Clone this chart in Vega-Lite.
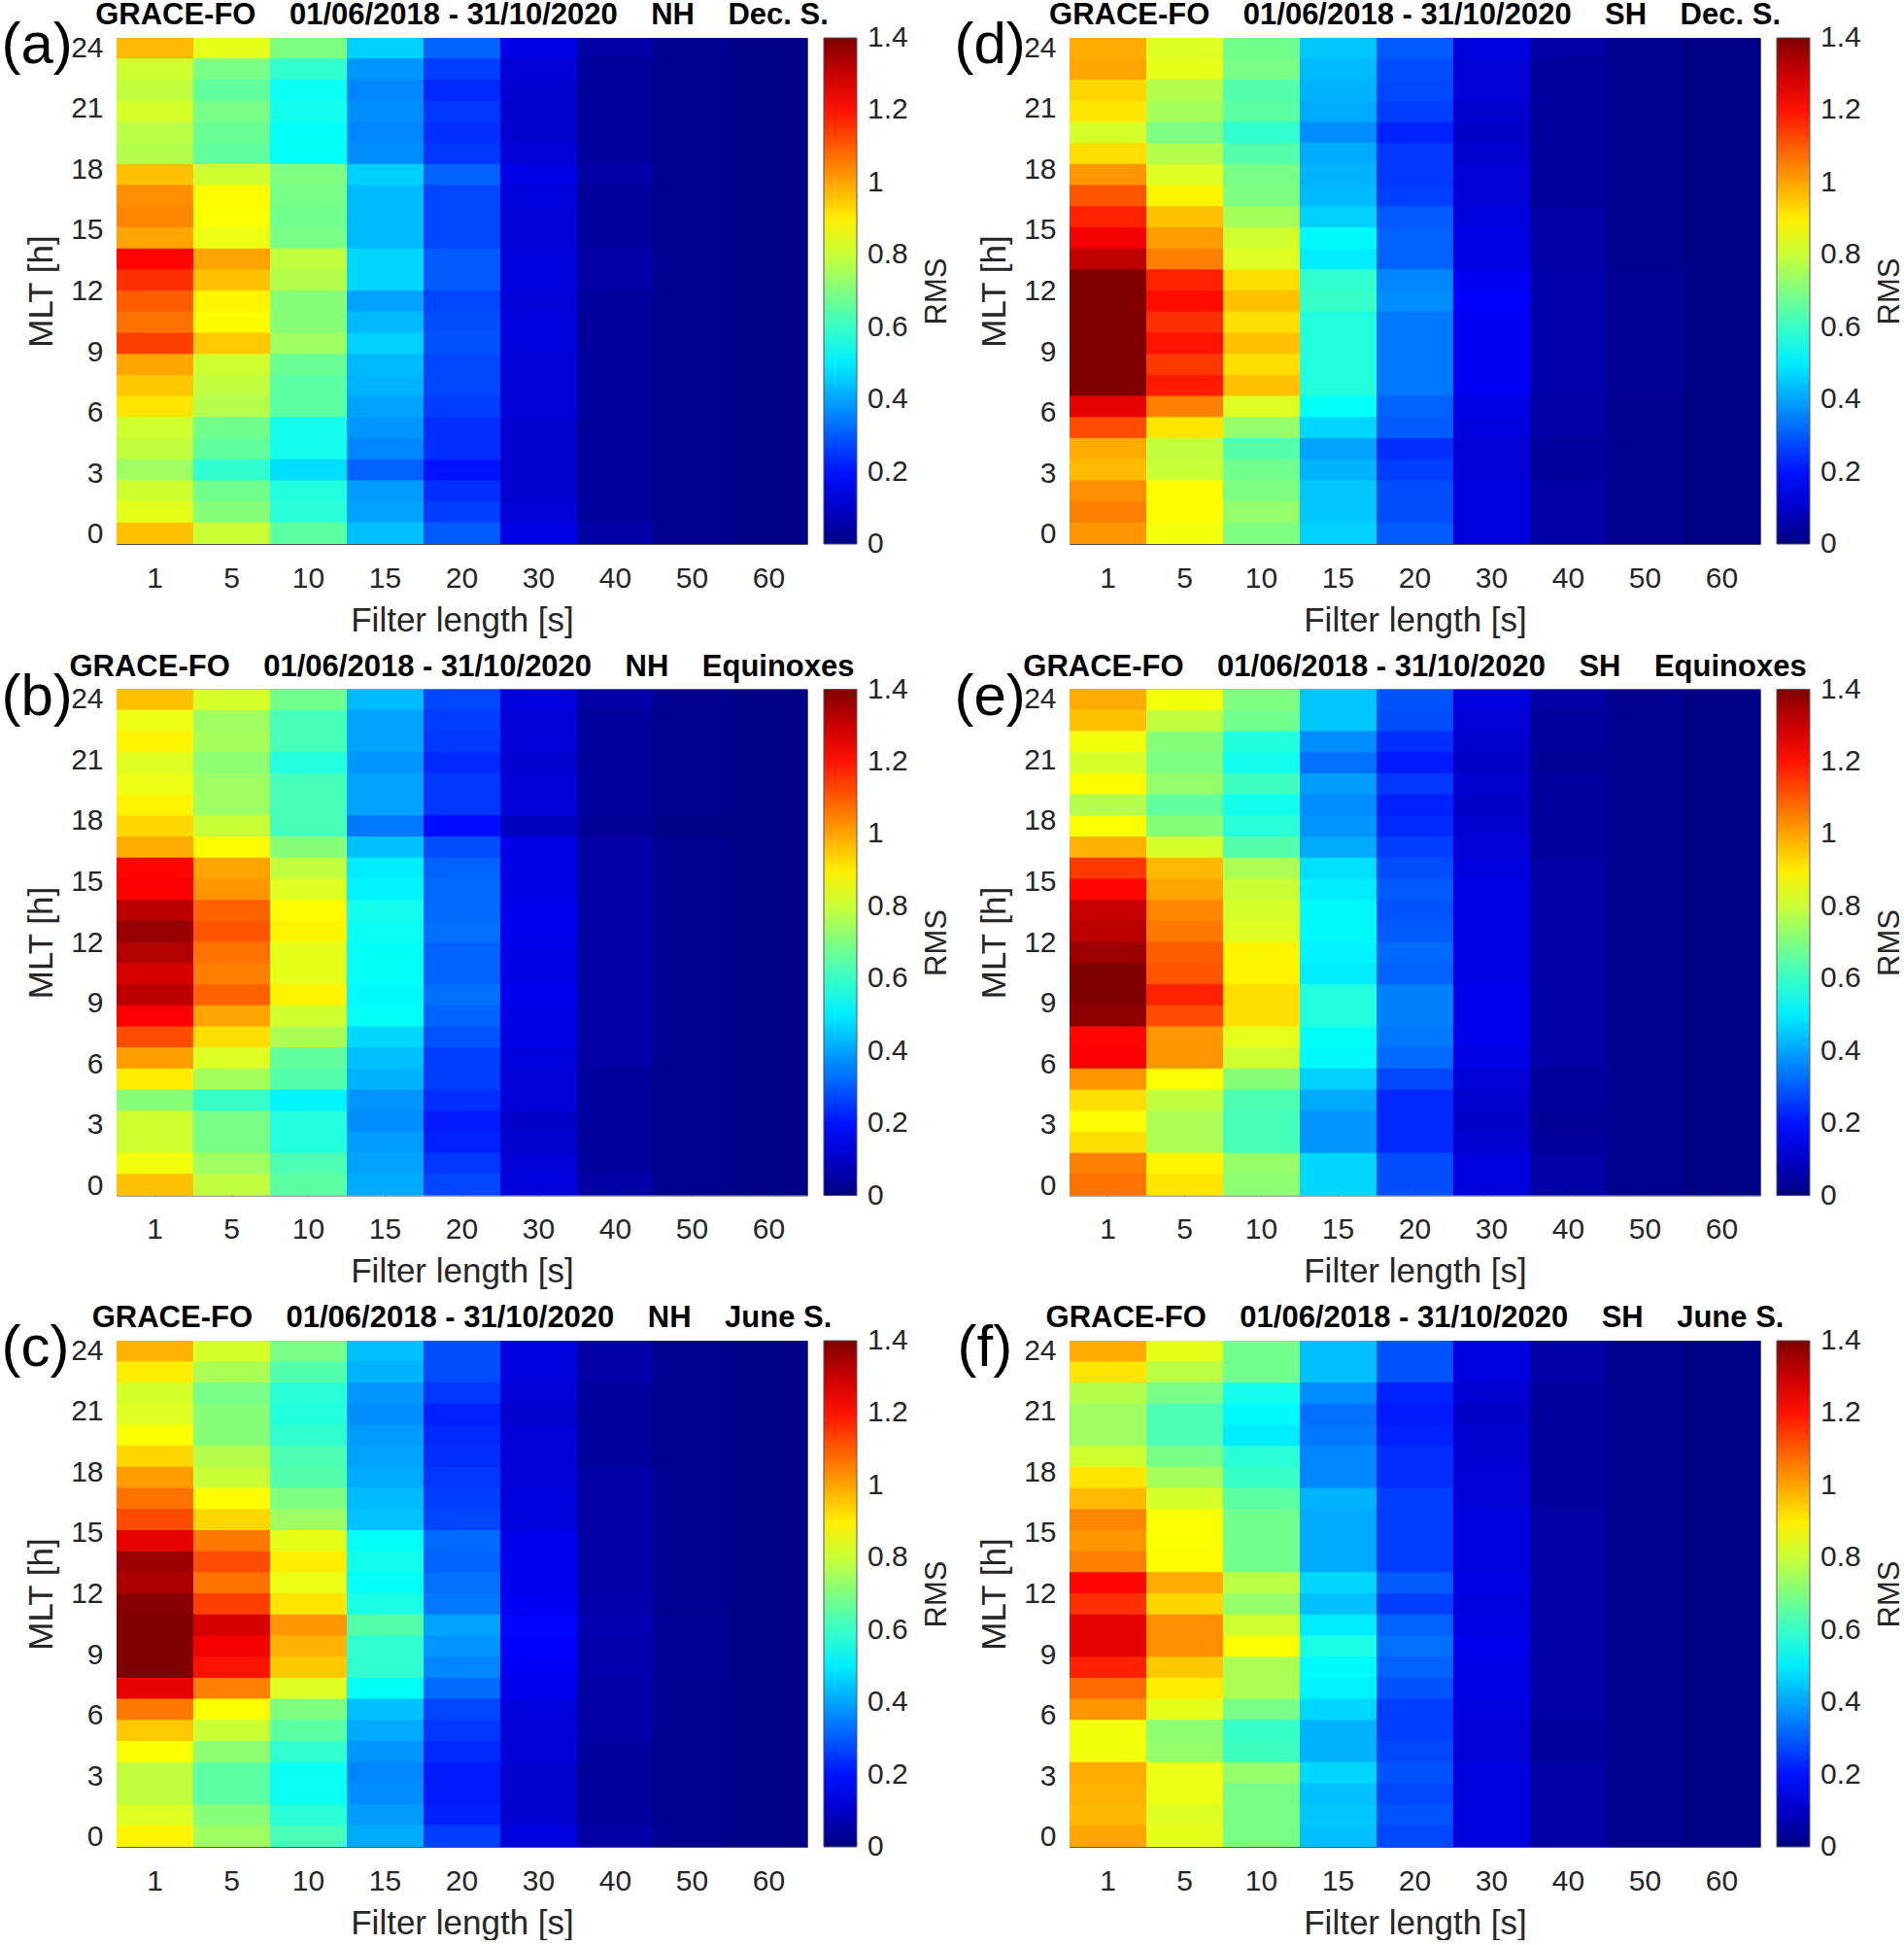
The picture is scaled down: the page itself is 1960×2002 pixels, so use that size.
{"$schema":"https://vega.github.io/schema/vega-lite/v6.json","background":"white","padding":{"left":1,"top":0,"right":0,"bottom":0},"bounds":"flush","columns":2,"spacing":{"row":149.5,"column":270},"resolve":{"scale":{"color":"independent"}},
"config":{"font":"Liberation Sans","view":{"stroke":null},"axis":{"grid":false,"zindex":1,"domainColor":"#555555","tickColor":"#333333","tickSize":-7,"labelColor":"#262626","titleColor":"#262626","labelFontSize":30,"titleFontSize":35,"titleFontWeight":"normal","labelFont":"Liberation Sans","titleFont":"Liberation Sans"},"title":{"fontSize":31,"fontWeight":"bold","color":"#000000","font":"Liberation Sans","offset":-15,"anchor":"middle"}},
"datasets":{
"a":[{"f":1,"m":23.98,"v":0.97},{"f":1,"m":22.94,"v":0.81},{"f":1,"m":21.9,"v":0.79},{"f":1,"m":20.85,"v":0.82},{"f":1,"m":19.81,"v":0.78},{"f":1,"m":18.77,"v":0.77},{"f":1,"m":17.73,"v":0.96},{"f":1,"m":16.69,"v":1.03},{"f":1,"m":15.65,"v":1.04},{"f":1,"m":14.6,"v":1.0},{"f":1,"m":13.56,"v":1.22},{"f":1,"m":12.52,"v":1.16},{"f":1,"m":11.48,"v":1.1},{"f":1,"m":10.44,"v":1.07},{"f":1,"m":9.4,"v":1.14},{"f":1,"m":8.35,"v":1.0},{"f":1,"m":7.31,"v":0.95},{"f":1,"m":6.27,"v":0.91},{"f":1,"m":5.23,"v":0.81},{"f":1,"m":4.19,"v":0.79},{"f":1,"m":3.15,"v":0.74},{"f":1,"m":2.1,"v":0.81},{"f":1,"m":1.06,"v":0.84},{"f":1,"m":0.02,"v":0.96},
{"f":5,"m":23.98,"v":0.84},{"f":5,"m":22.94,"v":0.69},{"f":5,"m":21.9,"v":0.66},{"f":5,"m":20.85,"v":0.69},{"f":5,"m":19.81,"v":0.67},{"f":5,"m":18.77,"v":0.66},{"f":5,"m":17.73,"v":0.81},{"f":5,"m":16.69,"v":0.88},{"f":5,"m":15.65,"v":0.87},{"f":5,"m":14.6,"v":0.85},{"f":5,"m":13.56,"v":1.0},{"f":5,"m":12.52,"v":0.96},{"f":5,"m":11.48,"v":0.89},{"f":5,"m":10.44,"v":0.88},{"f":5,"m":9.4,"v":0.95},{"f":5,"m":8.35,"v":0.81},{"f":5,"m":7.31,"v":0.79},{"f":5,"m":6.27,"v":0.77},{"f":5,"m":5.23,"v":0.68},{"f":5,"m":4.19,"v":0.66},{"f":5,"m":3.15,"v":0.59},{"f":5,"m":2.1,"v":0.68},{"f":5,"m":1.06,"v":0.71},{"f":5,"m":0.02,"v":0.8},
{"f":10,"m":23.98,"v":0.7},{"f":10,"m":22.94,"v":0.59},{"f":10,"m":21.9,"v":0.54},{"f":10,"m":20.85,"v":0.55},{"f":10,"m":19.81,"v":0.53},{"f":10,"m":18.77,"v":0.53},{"f":10,"m":17.73,"v":0.7},{"f":10,"m":16.69,"v":0.69},{"f":10,"m":15.65,"v":0.68},{"f":10,"m":14.6,"v":0.69},{"f":10,"m":13.56,"v":0.79},{"f":10,"m":12.52,"v":0.77},{"f":10,"m":11.48,"v":0.71},{"f":10,"m":10.44,"v":0.71},{"f":10,"m":9.4,"v":0.74},{"f":10,"m":8.35,"v":0.67},{"f":10,"m":7.31,"v":0.65},{"f":10,"m":6.27,"v":0.65},{"f":10,"m":5.23,"v":0.55},{"f":10,"m":4.19,"v":0.55},{"f":10,"m":3.15,"v":0.48},{"f":10,"m":2.1,"v":0.57},{"f":10,"m":1.06,"v":0.58},{"f":10,"m":0.02,"v":0.65},
{"f":15,"m":23.98,"v":0.46},{"f":15,"m":22.94,"v":0.38},{"f":15,"m":21.9,"v":0.36},{"f":15,"m":20.85,"v":0.37},{"f":15,"m":19.81,"v":0.36},{"f":15,"m":18.77,"v":0.37},{"f":15,"m":17.73,"v":0.46},{"f":15,"m":16.69,"v":0.43},{"f":15,"m":15.65,"v":0.43},{"f":15,"m":14.6,"v":0.43},{"f":15,"m":13.56,"v":0.47},{"f":15,"m":12.52,"v":0.47},{"f":15,"m":11.48,"v":0.4},{"f":15,"m":10.44,"v":0.43},{"f":15,"m":9.4,"v":0.46},{"f":15,"m":8.35,"v":0.43},{"f":15,"m":7.31,"v":0.42},{"f":15,"m":6.27,"v":0.4},{"f":15,"m":5.23,"v":0.38},{"f":15,"m":4.19,"v":0.36},{"f":15,"m":3.15,"v":0.31},{"f":15,"m":2.1,"v":0.39},{"f":15,"m":1.06,"v":0.4},{"f":15,"m":0.02,"v":0.44},
{"f":20,"m":23.98,"v":0.31},{"f":20,"m":22.94,"v":0.26},{"f":20,"m":21.9,"v":0.23},{"f":20,"m":20.85,"v":0.25},{"f":20,"m":19.81,"v":0.24},{"f":20,"m":18.77,"v":0.25},{"f":20,"m":17.73,"v":0.31},{"f":20,"m":16.69,"v":0.27},{"f":20,"m":15.65,"v":0.27},{"f":20,"m":14.6,"v":0.27},{"f":20,"m":13.56,"v":0.3},{"f":20,"m":12.52,"v":0.3},{"f":20,"m":11.48,"v":0.27},{"f":20,"m":10.44,"v":0.28},{"f":20,"m":9.4,"v":0.29},{"f":20,"m":8.35,"v":0.27},{"f":20,"m":7.31,"v":0.27},{"f":20,"m":6.27,"v":0.26},{"f":20,"m":5.23,"v":0.24},{"f":20,"m":4.19,"v":0.24},{"f":20,"m":3.15,"v":0.2},{"f":20,"m":2.1,"v":0.24},{"f":20,"m":1.06,"v":0.26},{"f":20,"m":0.02,"v":0.3},
{"f":30,"m":23.98,"v":0.14},{"f":30,"m":22.94,"v":0.12},{"f":30,"m":21.9,"v":0.11},{"f":30,"m":20.85,"v":0.11},{"f":30,"m":19.81,"v":0.11},{"f":30,"m":18.77,"v":0.12},{"f":30,"m":17.73,"v":0.14},{"f":30,"m":16.69,"v":0.13},{"f":30,"m":15.65,"v":0.12},{"f":30,"m":14.6,"v":0.12},{"f":30,"m":13.56,"v":0.13},{"f":30,"m":12.52,"v":0.13},{"f":30,"m":11.48,"v":0.12},{"f":30,"m":10.44,"v":0.13},{"f":30,"m":9.4,"v":0.13},{"f":30,"m":8.35,"v":0.12},{"f":30,"m":7.31,"v":0.12},{"f":30,"m":6.27,"v":0.12},{"f":30,"m":5.23,"v":0.11},{"f":30,"m":4.19,"v":0.11},{"f":30,"m":3.15,"v":0.11},{"f":30,"m":2.1,"v":0.11},{"f":30,"m":1.06,"v":0.12},{"f":30,"m":0.02,"v":0.14},
{"f":40,"m":23.98,"v":0.05},{"f":40,"m":22.94,"v":0.04},{"f":40,"m":21.9,"v":0.04},{"f":40,"m":20.85,"v":0.04},{"f":40,"m":19.81,"v":0.04},{"f":40,"m":18.77,"v":0.04},{"f":40,"m":17.73,"v":0.05},{"f":40,"m":16.69,"v":0.04},{"f":40,"m":15.65,"v":0.04},{"f":40,"m":14.6,"v":0.04},{"f":40,"m":13.56,"v":0.05},{"f":40,"m":12.52,"v":0.05},{"f":40,"m":11.48,"v":0.04},{"f":40,"m":10.44,"v":0.04},{"f":40,"m":9.4,"v":0.04},{"f":40,"m":8.35,"v":0.04},{"f":40,"m":7.31,"v":0.04},{"f":40,"m":6.27,"v":0.04},{"f":40,"m":5.23,"v":0.04},{"f":40,"m":4.19,"v":0.04},{"f":40,"m":3.15,"v":0.04},{"f":40,"m":2.1,"v":0.04},{"f":40,"m":1.06,"v":0.04},{"f":40,"m":0.02,"v":0.05},
{"f":50,"m":23.98,"v":0.02},{"f":50,"m":22.94,"v":0.02},{"f":50,"m":21.9,"v":0.02},{"f":50,"m":20.85,"v":0.02},{"f":50,"m":19.81,"v":0.02},{"f":50,"m":18.77,"v":0.02},{"f":50,"m":17.73,"v":0.02},{"f":50,"m":16.69,"v":0.02},{"f":50,"m":15.65,"v":0.02},{"f":50,"m":14.6,"v":0.02},{"f":50,"m":13.56,"v":0.02},{"f":50,"m":12.52,"v":0.02},{"f":50,"m":11.48,"v":0.02},{"f":50,"m":10.44,"v":0.02},{"f":50,"m":9.4,"v":0.02},{"f":50,"m":8.35,"v":0.02},{"f":50,"m":7.31,"v":0.02},{"f":50,"m":6.27,"v":0.02},{"f":50,"m":5.23,"v":0.02},{"f":50,"m":4.19,"v":0.02},{"f":50,"m":3.15,"v":0.02},{"f":50,"m":2.1,"v":0.02},{"f":50,"m":1.06,"v":0.02},{"f":50,"m":0.02,"v":0.02},
{"f":60,"m":23.98,"v":0.01},{"f":60,"m":22.94,"v":0.01},{"f":60,"m":21.9,"v":0.01},{"f":60,"m":20.85,"v":0.01},{"f":60,"m":19.81,"v":0.01},{"f":60,"m":18.77,"v":0.01},{"f":60,"m":17.73,"v":0.01},{"f":60,"m":16.69,"v":0.01},{"f":60,"m":15.65,"v":0.01},{"f":60,"m":14.6,"v":0.01},{"f":60,"m":13.56,"v":0.01},{"f":60,"m":12.52,"v":0.01},{"f":60,"m":11.48,"v":0.01},{"f":60,"m":10.44,"v":0.01},{"f":60,"m":9.4,"v":0.01},{"f":60,"m":8.35,"v":0.01},{"f":60,"m":7.31,"v":0.01},{"f":60,"m":6.27,"v":0.01},{"f":60,"m":5.23,"v":0.01},{"f":60,"m":4.19,"v":0.01},{"f":60,"m":3.15,"v":0.01},{"f":60,"m":2.1,"v":0.01},{"f":60,"m":1.06,"v":0.01},{"f":60,"m":0.02,"v":0.01}],
"b":[{"f":1,"m":23.98,"v":0.96},{"f":1,"m":22.94,"v":0.85},{"f":1,"m":21.9,"v":0.89},{"f":1,"m":20.85,"v":0.83},{"f":1,"m":19.81,"v":0.85},{"f":1,"m":18.77,"v":0.89},{"f":1,"m":17.73,"v":0.93},{"f":1,"m":16.69,"v":0.99},{"f":1,"m":15.65,"v":1.22},{"f":1,"m":14.6,"v":1.23},{"f":1,"m":13.56,"v":1.32},{"f":1,"m":12.52,"v":1.37},{"f":1,"m":11.48,"v":1.33},{"f":1,"m":10.44,"v":1.28},{"f":1,"m":9.4,"v":1.32},{"f":1,"m":8.35,"v":1.23},{"f":1,"m":7.31,"v":1.12},{"f":1,"m":6.27,"v":1.01},{"f":1,"m":5.23,"v":0.9},{"f":1,"m":4.19,"v":0.71},{"f":1,"m":3.15,"v":0.81},{"f":1,"m":2.1,"v":0.81},{"f":1,"m":1.06,"v":0.86},{"f":1,"m":0.02,"v":0.96},
{"f":5,"m":23.98,"v":0.82},{"f":5,"m":22.94,"v":0.74},{"f":5,"m":21.9,"v":0.75},{"f":5,"m":20.85,"v":0.72},{"f":5,"m":19.81,"v":0.74},{"f":5,"m":18.77,"v":0.74},{"f":5,"m":17.73,"v":0.8},{"f":5,"m":16.69,"v":0.88},{"f":5,"m":15.65,"v":1.0},{"f":5,"m":14.6,"v":1.02},{"f":5,"m":13.56,"v":1.09},{"f":5,"m":12.52,"v":1.11},{"f":5,"m":11.48,"v":1.07},{"f":5,"m":10.44,"v":1.05},{"f":5,"m":9.4,"v":1.09},{"f":5,"m":8.35,"v":1.0},{"f":5,"m":7.31,"v":0.92},{"f":5,"m":6.27,"v":0.83},{"f":5,"m":5.23,"v":0.75},{"f":5,"m":4.19,"v":0.6},{"f":5,"m":3.15,"v":0.69},{"f":5,"m":2.1,"v":0.69},{"f":5,"m":1.06,"v":0.74},{"f":5,"m":0.02,"v":0.79},
{"f":10,"m":23.98,"v":0.68},{"f":10,"m":22.94,"v":0.62},{"f":10,"m":21.9,"v":0.62},{"f":10,"m":20.85,"v":0.57},{"f":10,"m":19.81,"v":0.62},{"f":10,"m":18.77,"v":0.62},{"f":10,"m":17.73,"v":0.62},{"f":10,"m":16.69,"v":0.71},{"f":10,"m":15.65,"v":0.79},{"f":10,"m":14.6,"v":0.83},{"f":10,"m":13.56,"v":0.88},{"f":10,"m":12.52,"v":0.89},{"f":10,"m":11.48,"v":0.84},{"f":10,"m":10.44,"v":0.84},{"f":10,"m":9.4,"v":0.89},{"f":10,"m":8.35,"v":0.81},{"f":10,"m":7.31,"v":0.76},{"f":10,"m":6.27,"v":0.66},{"f":10,"m":5.23,"v":0.64},{"f":10,"m":4.19,"v":0.51},{"f":10,"m":3.15,"v":0.57},{"f":10,"m":2.1,"v":0.57},{"f":10,"m":1.06,"v":0.63},{"f":10,"m":0.02,"v":0.65},
{"f":15,"m":23.98,"v":0.43},{"f":15,"m":22.94,"v":0.4},{"f":15,"m":21.9,"v":0.4},{"f":15,"m":20.85,"v":0.38},{"f":15,"m":19.81,"v":0.4},{"f":15,"m":18.77,"v":0.4},{"f":15,"m":17.73,"v":0.34},{"f":15,"m":16.69,"v":0.44},{"f":15,"m":15.65,"v":0.5},{"f":15,"m":14.6,"v":0.51},{"f":15,"m":13.56,"v":0.55},{"f":15,"m":12.52,"v":0.54},{"f":15,"m":11.48,"v":0.53},{"f":15,"m":10.44,"v":0.53},{"f":15,"m":9.4,"v":0.52},{"f":15,"m":8.35,"v":0.53},{"f":15,"m":7.31,"v":0.47},{"f":15,"m":6.27,"v":0.44},{"f":15,"m":5.23,"v":0.42},{"f":15,"m":4.19,"v":0.38},{"f":15,"m":3.15,"v":0.37},{"f":15,"m":2.1,"v":0.39},{"f":15,"m":1.06,"v":0.4},{"f":15,"m":0.02,"v":0.41},
{"f":20,"m":23.98,"v":0.27},{"f":20,"m":22.94,"v":0.26},{"f":20,"m":21.9,"v":0.25},{"f":20,"m":20.85,"v":0.23},{"f":20,"m":19.81,"v":0.25},{"f":20,"m":18.77,"v":0.25},{"f":20,"m":17.73,"v":0.19},{"f":20,"m":16.69,"v":0.28},{"f":20,"m":15.65,"v":0.31},{"f":20,"m":14.6,"v":0.32},{"f":20,"m":13.56,"v":0.32},{"f":20,"m":12.52,"v":0.33},{"f":20,"m":11.48,"v":0.31},{"f":20,"m":10.44,"v":0.31},{"f":20,"m":9.4,"v":0.33},{"f":20,"m":8.35,"v":0.31},{"f":20,"m":7.31,"v":0.29},{"f":20,"m":6.27,"v":0.26},{"f":20,"m":5.23,"v":0.26},{"f":20,"m":4.19,"v":0.24},{"f":20,"m":3.15,"v":0.21},{"f":20,"m":2.1,"v":0.22},{"f":20,"m":1.06,"v":0.25},{"f":20,"m":0.02,"v":0.27},
{"f":30,"m":23.98,"v":0.13},{"f":30,"m":22.94,"v":0.12},{"f":30,"m":21.9,"v":0.12},{"f":30,"m":20.85,"v":0.11},{"f":30,"m":19.81,"v":0.12},{"f":30,"m":18.77,"v":0.12},{"f":30,"m":17.73,"v":0.09},{"f":30,"m":16.69,"v":0.14},{"f":30,"m":15.65,"v":0.14},{"f":30,"m":14.6,"v":0.14},{"f":30,"m":13.56,"v":0.15},{"f":30,"m":12.52,"v":0.15},{"f":30,"m":11.48,"v":0.14},{"f":30,"m":10.44,"v":0.14},{"f":30,"m":9.4,"v":0.15},{"f":30,"m":8.35,"v":0.14},{"f":30,"m":7.31,"v":0.14},{"f":30,"m":6.27,"v":0.13},{"f":30,"m":5.23,"v":0.12},{"f":30,"m":4.19,"v":0.12},{"f":30,"m":3.15,"v":0.1},{"f":30,"m":2.1,"v":0.11},{"f":30,"m":1.06,"v":0.12},{"f":30,"m":0.02,"v":0.13},
{"f":40,"m":23.98,"v":0.05},{"f":40,"m":22.94,"v":0.04},{"f":40,"m":21.9,"v":0.04},{"f":40,"m":20.85,"v":0.04},{"f":40,"m":19.81,"v":0.04},{"f":40,"m":18.77,"v":0.04},{"f":40,"m":17.73,"v":0.03},{"f":40,"m":16.69,"v":0.05},{"f":40,"m":15.65,"v":0.05},{"f":40,"m":14.6,"v":0.05},{"f":40,"m":13.56,"v":0.05},{"f":40,"m":12.52,"v":0.05},{"f":40,"m":11.48,"v":0.05},{"f":40,"m":10.44,"v":0.05},{"f":40,"m":9.4,"v":0.05},{"f":40,"m":8.35,"v":0.05},{"f":40,"m":7.31,"v":0.05},{"f":40,"m":6.27,"v":0.05},{"f":40,"m":5.23,"v":0.04},{"f":40,"m":4.19,"v":0.04},{"f":40,"m":3.15,"v":0.04},{"f":40,"m":2.1,"v":0.04},{"f":40,"m":1.06,"v":0.04},{"f":40,"m":0.02,"v":0.05},
{"f":50,"m":23.98,"v":0.02},{"f":50,"m":22.94,"v":0.02},{"f":50,"m":21.9,"v":0.02},{"f":50,"m":20.85,"v":0.02},{"f":50,"m":19.81,"v":0.02},{"f":50,"m":18.77,"v":0.02},{"f":50,"m":17.73,"v":0.01},{"f":50,"m":16.69,"v":0.02},{"f":50,"m":15.65,"v":0.02},{"f":50,"m":14.6,"v":0.02},{"f":50,"m":13.56,"v":0.02},{"f":50,"m":12.52,"v":0.02},{"f":50,"m":11.48,"v":0.02},{"f":50,"m":10.44,"v":0.02},{"f":50,"m":9.4,"v":0.02},{"f":50,"m":8.35,"v":0.02},{"f":50,"m":7.31,"v":0.02},{"f":50,"m":6.27,"v":0.02},{"f":50,"m":5.23,"v":0.02},{"f":50,"m":4.19,"v":0.02},{"f":50,"m":3.15,"v":0.02},{"f":50,"m":2.1,"v":0.02},{"f":50,"m":1.06,"v":0.02},{"f":50,"m":0.02,"v":0.02},
{"f":60,"m":23.98,"v":0.01},{"f":60,"m":22.94,"v":0.01},{"f":60,"m":21.9,"v":0.01},{"f":60,"m":20.85,"v":0.01},{"f":60,"m":19.81,"v":0.01},{"f":60,"m":18.77,"v":0.01},{"f":60,"m":17.73,"v":0.01},{"f":60,"m":16.69,"v":0.01},{"f":60,"m":15.65,"v":0.01},{"f":60,"m":14.6,"v":0.01},{"f":60,"m":13.56,"v":0.01},{"f":60,"m":12.52,"v":0.01},{"f":60,"m":11.48,"v":0.01},{"f":60,"m":10.44,"v":0.01},{"f":60,"m":9.4,"v":0.01},{"f":60,"m":8.35,"v":0.01},{"f":60,"m":7.31,"v":0.01},{"f":60,"m":6.27,"v":0.01},{"f":60,"m":5.23,"v":0.01},{"f":60,"m":4.19,"v":0.01},{"f":60,"m":3.15,"v":0.01},{"f":60,"m":2.1,"v":0.01},{"f":60,"m":1.06,"v":0.01},{"f":60,"m":0.02,"v":0.01}],
"c":[{"f":1,"m":23.98,"v":0.98},{"f":1,"m":22.94,"v":0.9},{"f":1,"m":21.9,"v":0.82},{"f":1,"m":20.85,"v":0.83},{"f":1,"m":19.81,"v":0.87},{"f":1,"m":18.77,"v":0.93},{"f":1,"m":17.73,"v":1.01},{"f":1,"m":16.69,"v":1.07},{"f":1,"m":15.65,"v":1.12},{"f":1,"m":14.6,"v":1.26},{"f":1,"m":13.56,"v":1.36},{"f":1,"m":12.52,"v":1.34},{"f":1,"m":11.48,"v":1.39},{"f":1,"m":10.44,"v":1.4},{"f":1,"m":9.4,"v":1.4},{"f":1,"m":8.35,"v":1.4},{"f":1,"m":7.31,"v":1.26},{"f":1,"m":6.27,"v":1.06},{"f":1,"m":5.23,"v":0.95},{"f":1,"m":4.19,"v":0.87},{"f":1,"m":3.15,"v":0.79},{"f":1,"m":2.1,"v":0.79},{"f":1,"m":1.06,"v":0.83},{"f":1,"m":0.02,"v":0.89},
{"f":5,"m":23.98,"v":0.82},{"f":5,"m":22.94,"v":0.76},{"f":5,"m":21.9,"v":0.69},{"f":5,"m":20.85,"v":0.71},{"f":5,"m":19.81,"v":0.71},{"f":5,"m":18.77,"v":0.77},{"f":5,"m":17.73,"v":0.8},{"f":5,"m":16.69,"v":0.88},{"f":5,"m":15.65,"v":0.93},{"f":5,"m":14.6,"v":1.06},{"f":5,"m":13.56,"v":1.12},{"f":5,"m":12.52,"v":1.07},{"f":5,"m":11.48,"v":1.14},{"f":5,"m":10.44,"v":1.28},{"f":5,"m":9.4,"v":1.24},{"f":5,"m":8.35,"v":1.2},{"f":5,"m":7.31,"v":1.05},{"f":5,"m":6.27,"v":0.87},{"f":5,"m":5.23,"v":0.8},{"f":5,"m":4.19,"v":0.72},{"f":5,"m":3.15,"v":0.65},{"f":5,"m":2.1,"v":0.65},{"f":5,"m":1.06,"v":0.71},{"f":5,"m":0.02,"v":0.74},
{"f":10,"m":23.98,"v":0.69},{"f":10,"m":22.94,"v":0.64},{"f":10,"m":21.9,"v":0.58},{"f":10,"m":20.85,"v":0.57},{"f":10,"m":19.81,"v":0.59},{"f":10,"m":18.77,"v":0.63},{"f":10,"m":17.73,"v":0.64},{"f":10,"m":16.69,"v":0.7},{"f":10,"m":15.65,"v":0.74},{"f":10,"m":14.6,"v":0.84},{"f":10,"m":13.56,"v":0.9},{"f":10,"m":12.52,"v":0.85},{"f":10,"m":11.48,"v":0.91},{"f":10,"m":10.44,"v":1.02},{"f":10,"m":9.4,"v":0.98},{"f":10,"m":8.35,"v":0.95},{"f":10,"m":7.31,"v":0.83},{"f":10,"m":6.27,"v":0.7},{"f":10,"m":5.23,"v":0.65},{"f":10,"m":4.19,"v":0.59},{"f":10,"m":3.15,"v":0.54},{"f":10,"m":2.1,"v":0.54},{"f":10,"m":1.06,"v":0.58},{"f":10,"m":0.02,"v":0.62},
{"f":15,"m":23.98,"v":0.44},{"f":15,"m":22.94,"v":0.42},{"f":15,"m":21.9,"v":0.38},{"f":15,"m":20.85,"v":0.37},{"f":15,"m":19.81,"v":0.39},{"f":15,"m":18.77,"v":0.4},{"f":15,"m":17.73,"v":0.41},{"f":15,"m":16.69,"v":0.43},{"f":15,"m":15.65,"v":0.44},{"f":15,"m":14.6,"v":0.53},{"f":15,"m":13.56,"v":0.55},{"f":15,"m":12.52,"v":0.53},{"f":15,"m":11.48,"v":0.56},{"f":15,"m":10.44,"v":0.64},{"f":15,"m":9.4,"v":0.59},{"f":15,"m":8.35,"v":0.59},{"f":15,"m":7.31,"v":0.53},{"f":15,"m":6.27,"v":0.44},{"f":15,"m":5.23,"v":0.41},{"f":15,"m":4.19,"v":0.38},{"f":15,"m":3.15,"v":0.36},{"f":15,"m":2.1,"v":0.37},{"f":15,"m":1.06,"v":0.39},{"f":15,"m":0.02,"v":0.41},
{"f":20,"m":23.98,"v":0.28},{"f":20,"m":22.94,"v":0.28},{"f":20,"m":21.9,"v":0.25},{"f":20,"m":20.85,"v":0.22},{"f":20,"m":19.81,"v":0.23},{"f":20,"m":18.77,"v":0.24},{"f":20,"m":17.73,"v":0.25},{"f":20,"m":16.69,"v":0.26},{"f":20,"m":15.65,"v":0.27},{"f":20,"m":14.6,"v":0.32},{"f":20,"m":13.56,"v":0.31},{"f":20,"m":12.52,"v":0.33},{"f":20,"m":11.48,"v":0.34},{"f":20,"m":10.44,"v":0.4},{"f":20,"m":9.4,"v":0.38},{"f":20,"m":8.35,"v":0.36},{"f":20,"m":7.31,"v":0.32},{"f":20,"m":6.27,"v":0.27},{"f":20,"m":5.23,"v":0.25},{"f":20,"m":4.19,"v":0.23},{"f":20,"m":3.15,"v":0.21},{"f":20,"m":2.1,"v":0.21},{"f":20,"m":1.06,"v":0.22},{"f":20,"m":0.02,"v":0.26},
{"f":30,"m":23.98,"v":0.13},{"f":30,"m":22.94,"v":0.13},{"f":30,"m":21.9,"v":0.12},{"f":30,"m":20.85,"v":0.11},{"f":30,"m":19.81,"v":0.12},{"f":30,"m":18.77,"v":0.12},{"f":30,"m":17.73,"v":0.12},{"f":30,"m":16.69,"v":0.13},{"f":30,"m":15.65,"v":0.13},{"f":30,"m":14.6,"v":0.15},{"f":30,"m":13.56,"v":0.15},{"f":30,"m":12.52,"v":0.15},{"f":30,"m":11.48,"v":0.16},{"f":30,"m":10.44,"v":0.18},{"f":30,"m":9.4,"v":0.17},{"f":30,"m":8.35,"v":0.16},{"f":30,"m":7.31,"v":0.15},{"f":30,"m":6.27,"v":0.13},{"f":30,"m":5.23,"v":0.12},{"f":30,"m":4.19,"v":0.12},{"f":30,"m":3.15,"v":0.11},{"f":30,"m":2.1,"v":0.11},{"f":30,"m":1.06,"v":0.11},{"f":30,"m":0.02,"v":0.13},
{"f":40,"m":23.98,"v":0.05},{"f":40,"m":22.94,"v":0.05},{"f":40,"m":21.9,"v":0.04},{"f":40,"m":20.85,"v":0.04},{"f":40,"m":19.81,"v":0.04},{"f":40,"m":18.77,"v":0.04},{"f":40,"m":17.73,"v":0.05},{"f":40,"m":16.69,"v":0.05},{"f":40,"m":15.65,"v":0.05},{"f":40,"m":14.6,"v":0.05},{"f":40,"m":13.56,"v":0.05},{"f":40,"m":12.52,"v":0.05},{"f":40,"m":11.48,"v":0.06},{"f":40,"m":10.44,"v":0.07},{"f":40,"m":9.4,"v":0.06},{"f":40,"m":8.35,"v":0.06},{"f":40,"m":7.31,"v":0.05},{"f":40,"m":6.27,"v":0.05},{"f":40,"m":5.23,"v":0.05},{"f":40,"m":4.19,"v":0.04},{"f":40,"m":3.15,"v":0.04},{"f":40,"m":2.1,"v":0.04},{"f":40,"m":1.06,"v":0.04},{"f":40,"m":0.02,"v":0.05},
{"f":50,"m":23.98,"v":0.02},{"f":50,"m":22.94,"v":0.02},{"f":50,"m":21.9,"v":0.02},{"f":50,"m":20.85,"v":0.02},{"f":50,"m":19.81,"v":0.02},{"f":50,"m":18.77,"v":0.02},{"f":50,"m":17.73,"v":0.02},{"f":50,"m":16.69,"v":0.02},{"f":50,"m":15.65,"v":0.02},{"f":50,"m":14.6,"v":0.02},{"f":50,"m":13.56,"v":0.02},{"f":50,"m":12.52,"v":0.02},{"f":50,"m":11.48,"v":0.02},{"f":50,"m":10.44,"v":0.03},{"f":50,"m":9.4,"v":0.03},{"f":50,"m":8.35,"v":0.03},{"f":50,"m":7.31,"v":0.02},{"f":50,"m":6.27,"v":0.02},{"f":50,"m":5.23,"v":0.02},{"f":50,"m":4.19,"v":0.02},{"f":50,"m":3.15,"v":0.02},{"f":50,"m":2.1,"v":0.02},{"f":50,"m":1.06,"v":0.02},{"f":50,"m":0.02,"v":0.02},
{"f":60,"m":23.98,"v":0.01},{"f":60,"m":22.94,"v":0.01},{"f":60,"m":21.9,"v":0.01},{"f":60,"m":20.85,"v":0.01},{"f":60,"m":19.81,"v":0.01},{"f":60,"m":18.77,"v":0.01},{"f":60,"m":17.73,"v":0.01},{"f":60,"m":16.69,"v":0.01},{"f":60,"m":15.65,"v":0.01},{"f":60,"m":14.6,"v":0.01},{"f":60,"m":13.56,"v":0.01},{"f":60,"m":12.52,"v":0.01},{"f":60,"m":11.48,"v":0.01},{"f":60,"m":10.44,"v":0.01},{"f":60,"m":9.4,"v":0.01},{"f":60,"m":8.35,"v":0.01},{"f":60,"m":7.31,"v":0.01},{"f":60,"m":6.27,"v":0.01},{"f":60,"m":5.23,"v":0.01},{"f":60,"m":4.19,"v":0.01},{"f":60,"m":3.15,"v":0.01},{"f":60,"m":2.1,"v":0.01},{"f":60,"m":1.06,"v":0.01},{"f":60,"m":0.02,"v":0.01}],
"d":[{"f":1,"m":23.98,"v":0.99},{"f":1,"m":22.94,"v":1.0},{"f":1,"m":21.9,"v":0.93},{"f":1,"m":20.85,"v":0.91},{"f":1,"m":19.81,"v":0.82},{"f":1,"m":18.77,"v":0.92},{"f":1,"m":17.73,"v":1.02},{"f":1,"m":16.69,"v":1.11},{"f":1,"m":15.65,"v":1.18},{"f":1,"m":14.6,"v":1.24},{"f":1,"m":13.56,"v":1.31},{"f":1,"m":12.52,"v":1.4},{"f":1,"m":11.48,"v":1.4},{"f":1,"m":10.44,"v":1.4},{"f":1,"m":9.4,"v":1.4},{"f":1,"m":8.35,"v":1.4},{"f":1,"m":7.31,"v":1.4},{"f":1,"m":6.27,"v":1.26},{"f":1,"m":5.23,"v":1.12},{"f":1,"m":4.19,"v":0.99},{"f":1,"m":3.15,"v":0.97},{"f":1,"m":2.1,"v":1.03},{"f":1,"m":1.06,"v":1.05},{"f":1,"m":0.02,"v":1.02},
{"f":5,"m":23.98,"v":0.83},{"f":5,"m":22.94,"v":0.84},{"f":5,"m":21.9,"v":0.77},{"f":5,"m":20.85,"v":0.75},{"f":5,"m":19.81,"v":0.7},{"f":5,"m":18.77,"v":0.77},{"f":5,"m":17.73,"v":0.83},{"f":5,"m":16.69,"v":0.89},{"f":5,"m":15.65,"v":0.96},{"f":5,"m":14.6,"v":1.01},{"f":5,"m":13.56,"v":1.05},{"f":5,"m":12.52,"v":1.18},{"f":5,"m":11.48,"v":1.21},{"f":5,"m":10.44,"v":1.16},{"f":5,"m":9.4,"v":1.2},{"f":5,"m":8.35,"v":1.15},{"f":5,"m":7.31,"v":1.19},{"f":5,"m":6.27,"v":1.05},{"f":5,"m":5.23,"v":0.91},{"f":5,"m":4.19,"v":0.79},{"f":5,"m":3.15,"v":0.8},{"f":5,"m":2.1,"v":0.88},{"f":5,"m":1.06,"v":0.88},{"f":5,"m":0.02,"v":0.86},
{"f":10,"m":23.98,"v":0.68},{"f":10,"m":22.94,"v":0.69},{"f":10,"m":21.9,"v":0.64},{"f":10,"m":20.85,"v":0.65},{"f":10,"m":19.81,"v":0.59},{"f":10,"m":18.77,"v":0.64},{"f":10,"m":17.73,"v":0.69},{"f":10,"m":16.69,"v":0.7},{"f":10,"m":15.65,"v":0.75},{"f":10,"m":14.6,"v":0.81},{"f":10,"m":13.56,"v":0.83},{"f":10,"m":12.52,"v":0.92},{"f":10,"m":11.48,"v":0.96},{"f":10,"m":10.44,"v":0.92},{"f":10,"m":9.4,"v":0.96},{"f":10,"m":8.35,"v":0.92},{"f":10,"m":7.31,"v":0.96},{"f":10,"m":6.27,"v":0.83},{"f":10,"m":5.23,"v":0.73},{"f":10,"m":4.19,"v":0.64},{"f":10,"m":3.15,"v":0.68},{"f":10,"m":2.1,"v":0.7},{"f":10,"m":1.06,"v":0.73},{"f":10,"m":0.02,"v":0.7},
{"f":15,"m":23.98,"v":0.45},{"f":15,"m":22.94,"v":0.43},{"f":15,"m":21.9,"v":0.42},{"f":15,"m":20.85,"v":0.41},{"f":15,"m":19.81,"v":0.37},{"f":15,"m":18.77,"v":0.41},{"f":15,"m":17.73,"v":0.42},{"f":15,"m":16.69,"v":0.43},{"f":15,"m":15.65,"v":0.46},{"f":15,"m":14.6,"v":0.52},{"f":15,"m":13.56,"v":0.5},{"f":15,"m":12.52,"v":0.59},{"f":15,"m":11.48,"v":0.6},{"f":15,"m":10.44,"v":0.57},{"f":15,"m":9.4,"v":0.57},{"f":15,"m":8.35,"v":0.57},{"f":15,"m":7.31,"v":0.57},{"f":15,"m":6.27,"v":0.53},{"f":15,"m":5.23,"v":0.47},{"f":15,"m":4.19,"v":0.4},{"f":15,"m":3.15,"v":0.42},{"f":15,"m":2.1,"v":0.45},{"f":15,"m":1.06,"v":0.45},{"f":15,"m":0.02,"v":0.46},
{"f":20,"m":23.98,"v":0.3},{"f":20,"m":22.94,"v":0.28},{"f":20,"m":21.9,"v":0.27},{"f":20,"m":20.85,"v":0.26},{"f":20,"m":19.81,"v":0.22},{"f":20,"m":18.77,"v":0.25},{"f":20,"m":17.73,"v":0.25},{"f":20,"m":16.69,"v":0.26},{"f":20,"m":15.65,"v":0.3},{"f":20,"m":14.6,"v":0.31},{"f":20,"m":13.56,"v":0.31},{"f":20,"m":12.52,"v":0.36},{"f":20,"m":11.48,"v":0.37},{"f":20,"m":10.44,"v":0.34},{"f":20,"m":9.4,"v":0.34},{"f":20,"m":8.35,"v":0.34},{"f":20,"m":7.31,"v":0.34},{"f":20,"m":6.27,"v":0.31},{"f":20,"m":5.23,"v":0.3},{"f":20,"m":4.19,"v":0.24},{"f":20,"m":3.15,"v":0.26},{"f":20,"m":2.1,"v":0.28},{"f":20,"m":1.06,"v":0.28},{"f":20,"m":0.02,"v":0.3},
{"f":30,"m":23.98,"v":0.13},{"f":30,"m":22.94,"v":0.12},{"f":30,"m":21.9,"v":0.12},{"f":30,"m":20.85,"v":0.11},{"f":30,"m":19.81,"v":0.1},{"f":30,"m":18.77,"v":0.11},{"f":30,"m":17.73,"v":0.12},{"f":30,"m":16.69,"v":0.12},{"f":30,"m":15.65,"v":0.13},{"f":30,"m":14.6,"v":0.14},{"f":30,"m":13.56,"v":0.14},{"f":30,"m":12.52,"v":0.16},{"f":30,"m":11.48,"v":0.17},{"f":30,"m":10.44,"v":0.16},{"f":30,"m":9.4,"v":0.16},{"f":30,"m":8.35,"v":0.16},{"f":30,"m":7.31,"v":0.16},{"f":30,"m":6.27,"v":0.14},{"f":30,"m":5.23,"v":0.13},{"f":30,"m":4.19,"v":0.12},{"f":30,"m":3.15,"v":0.12},{"f":30,"m":2.1,"v":0.13},{"f":30,"m":1.06,"v":0.13},{"f":30,"m":0.02,"v":0.13},
{"f":40,"m":23.98,"v":0.05},{"f":40,"m":22.94,"v":0.04},{"f":40,"m":21.9,"v":0.04},{"f":40,"m":20.85,"v":0.04},{"f":40,"m":19.81,"v":0.04},{"f":40,"m":18.77,"v":0.04},{"f":40,"m":17.73,"v":0.04},{"f":40,"m":16.69,"v":0.04},{"f":40,"m":15.65,"v":0.05},{"f":40,"m":14.6,"v":0.05},{"f":40,"m":13.56,"v":0.05},{"f":40,"m":12.52,"v":0.06},{"f":40,"m":11.48,"v":0.06},{"f":40,"m":10.44,"v":0.06},{"f":40,"m":9.4,"v":0.06},{"f":40,"m":8.35,"v":0.06},{"f":40,"m":7.31,"v":0.06},{"f":40,"m":6.27,"v":0.05},{"f":40,"m":5.23,"v":0.05},{"f":40,"m":4.19,"v":0.04},{"f":40,"m":3.15,"v":0.04},{"f":40,"m":2.1,"v":0.05},{"f":40,"m":1.06,"v":0.05},{"f":40,"m":0.02,"v":0.05},
{"f":50,"m":23.98,"v":0.02},{"f":50,"m":22.94,"v":0.02},{"f":50,"m":21.9,"v":0.02},{"f":50,"m":20.85,"v":0.02},{"f":50,"m":19.81,"v":0.02},{"f":50,"m":18.77,"v":0.02},{"f":50,"m":17.73,"v":0.02},{"f":50,"m":16.69,"v":0.02},{"f":50,"m":15.65,"v":0.02},{"f":50,"m":14.6,"v":0.02},{"f":50,"m":13.56,"v":0.02},{"f":50,"m":12.52,"v":0.03},{"f":50,"m":11.48,"v":0.03},{"f":50,"m":10.44,"v":0.03},{"f":50,"m":9.4,"v":0.03},{"f":50,"m":8.35,"v":0.03},{"f":50,"m":7.31,"v":0.03},{"f":50,"m":6.27,"v":0.02},{"f":50,"m":5.23,"v":0.02},{"f":50,"m":4.19,"v":0.02},{"f":50,"m":3.15,"v":0.02},{"f":50,"m":2.1,"v":0.02},{"f":50,"m":1.06,"v":0.02},{"f":50,"m":0.02,"v":0.02},
{"f":60,"m":23.98,"v":0.01},{"f":60,"m":22.94,"v":0.01},{"f":60,"m":21.9,"v":0.01},{"f":60,"m":20.85,"v":0.01},{"f":60,"m":19.81,"v":0.01},{"f":60,"m":18.77,"v":0.01},{"f":60,"m":17.73,"v":0.01},{"f":60,"m":16.69,"v":0.01},{"f":60,"m":15.65,"v":0.01},{"f":60,"m":14.6,"v":0.01},{"f":60,"m":13.56,"v":0.01},{"f":60,"m":12.52,"v":0.01},{"f":60,"m":11.48,"v":0.01},{"f":60,"m":10.44,"v":0.01},{"f":60,"m":9.4,"v":0.01},{"f":60,"m":8.35,"v":0.01},{"f":60,"m":7.31,"v":0.01},{"f":60,"m":6.27,"v":0.01},{"f":60,"m":5.23,"v":0.01},{"f":60,"m":4.19,"v":0.01},{"f":60,"m":3.15,"v":0.01},{"f":60,"m":2.1,"v":0.01},{"f":60,"m":1.06,"v":0.01},{"f":60,"m":0.02,"v":0.01}],
"e":[{"f":1,"m":23.98,"v":0.99},{"f":1,"m":22.94,"v":0.96},{"f":1,"m":21.9,"v":0.86},{"f":1,"m":20.85,"v":0.82},{"f":1,"m":19.81,"v":0.88},{"f":1,"m":18.77,"v":0.77},{"f":1,"m":17.73,"v":0.87},{"f":1,"m":16.69,"v":0.98},{"f":1,"m":15.65,"v":1.15},{"f":1,"m":14.6,"v":1.22},{"f":1,"m":13.56,"v":1.3},{"f":1,"m":12.52,"v":1.32},{"f":1,"m":11.48,"v":1.36},{"f":1,"m":10.44,"v":1.4},{"f":1,"m":9.4,"v":1.4},{"f":1,"m":8.35,"v":1.38},{"f":1,"m":7.31,"v":1.22},{"f":1,"m":6.27,"v":1.23},{"f":1,"m":5.23,"v":1.02},{"f":1,"m":4.19,"v":0.92},{"f":1,"m":3.15,"v":0.88},{"f":1,"m":2.1,"v":0.92},{"f":1,"m":1.06,"v":1.05},{"f":1,"m":0.02,"v":1.07},
{"f":5,"m":23.98,"v":0.86},{"f":5,"m":22.94,"v":0.79},{"f":5,"m":21.9,"v":0.71},{"f":5,"m":20.85,"v":0.7},{"f":5,"m":19.81,"v":0.73},{"f":5,"m":18.77,"v":0.66},{"f":5,"m":17.73,"v":0.71},{"f":5,"m":16.69,"v":0.82},{"f":5,"m":15.65,"v":0.97},{"f":5,"m":14.6,"v":1.0},{"f":5,"m":13.56,"v":1.04},{"f":5,"m":12.52,"v":1.06},{"f":5,"m":11.48,"v":1.1},{"f":5,"m":10.44,"v":1.11},{"f":5,"m":9.4,"v":1.18},{"f":5,"m":8.35,"v":1.12},{"f":5,"m":7.31,"v":1.02},{"f":5,"m":6.27,"v":1.02},{"f":5,"m":5.23,"v":0.87},{"f":5,"m":4.19,"v":0.79},{"f":5,"m":3.15,"v":0.76},{"f":5,"m":2.1,"v":0.76},{"f":5,"m":1.06,"v":0.89},{"f":5,"m":0.02,"v":0.91},
{"f":10,"m":23.98,"v":0.7},{"f":10,"m":22.94,"v":0.68},{"f":10,"m":21.9,"v":0.57},{"f":10,"m":20.85,"v":0.55},{"f":10,"m":19.81,"v":0.61},{"f":10,"m":18.77,"v":0.55},{"f":10,"m":17.73,"v":0.58},{"f":10,"m":16.69,"v":0.64},{"f":10,"m":15.65,"v":0.76},{"f":10,"m":14.6,"v":0.8},{"f":10,"m":13.56,"v":0.82},{"f":10,"m":12.52,"v":0.83},{"f":10,"m":11.48,"v":0.89},{"f":10,"m":10.44,"v":0.89},{"f":10,"m":9.4,"v":0.92},{"f":10,"m":8.35,"v":0.92},{"f":10,"m":7.31,"v":0.84},{"f":10,"m":6.27,"v":0.81},{"f":10,"m":5.23,"v":0.71},{"f":10,"m":4.19,"v":0.63},{"f":10,"m":3.15,"v":0.62},{"f":10,"m":2.1,"v":0.62},{"f":10,"m":1.06,"v":0.73},{"f":10,"m":0.02,"v":0.72},
{"f":15,"m":23.98,"v":0.45},{"f":15,"m":22.94,"v":0.45},{"f":15,"m":21.9,"v":0.37},{"f":15,"m":20.85,"v":0.33},{"f":15,"m":19.81,"v":0.39},{"f":15,"m":18.77,"v":0.37},{"f":15,"m":17.73,"v":0.38},{"f":15,"m":16.69,"v":0.41},{"f":15,"m":15.65,"v":0.48},{"f":15,"m":14.6,"v":0.5},{"f":15,"m":13.56,"v":0.52},{"f":15,"m":12.52,"v":0.52},{"f":15,"m":11.48,"v":0.51},{"f":15,"m":10.44,"v":0.5},{"f":15,"m":9.4,"v":0.57},{"f":15,"m":8.35,"v":0.57},{"f":15,"m":7.31,"v":0.53},{"f":15,"m":6.27,"v":0.52},{"f":15,"m":5.23,"v":0.46},{"f":15,"m":4.19,"v":0.41},{"f":15,"m":3.15,"v":0.38},{"f":15,"m":2.1,"v":0.38},{"f":15,"m":1.06,"v":0.47},{"f":15,"m":0.02,"v":0.47},
{"f":20,"m":23.98,"v":0.29},{"f":20,"m":22.94,"v":0.28},{"f":20,"m":21.9,"v":0.24},{"f":20,"m":20.85,"v":0.21},{"f":20,"m":19.81,"v":0.25},{"f":20,"m":18.77,"v":0.22},{"f":20,"m":17.73,"v":0.23},{"f":20,"m":16.69,"v":0.26},{"f":20,"m":15.65,"v":0.28},{"f":20,"m":14.6,"v":0.3},{"f":20,"m":13.56,"v":0.29},{"f":20,"m":12.52,"v":0.3},{"f":20,"m":11.48,"v":0.32},{"f":20,"m":10.44,"v":0.31},{"f":20,"m":9.4,"v":0.35},{"f":20,"m":8.35,"v":0.35},{"f":20,"m":7.31,"v":0.34},{"f":20,"m":6.27,"v":0.32},{"f":20,"m":5.23,"v":0.27},{"f":20,"m":4.19,"v":0.23},{"f":20,"m":3.15,"v":0.23},{"f":20,"m":2.1,"v":0.23},{"f":20,"m":1.06,"v":0.28},{"f":20,"m":0.02,"v":0.28},
{"f":30,"m":23.98,"v":0.13},{"f":30,"m":22.94,"v":0.12},{"f":30,"m":21.9,"v":0.11},{"f":30,"m":20.85,"v":0.1},{"f":30,"m":19.81,"v":0.11},{"f":30,"m":18.77,"v":0.1},{"f":30,"m":17.73,"v":0.11},{"f":30,"m":16.69,"v":0.12},{"f":30,"m":15.65,"v":0.13},{"f":30,"m":14.6,"v":0.14},{"f":30,"m":13.56,"v":0.14},{"f":30,"m":12.52,"v":0.14},{"f":30,"m":11.48,"v":0.14},{"f":30,"m":10.44,"v":0.14},{"f":30,"m":9.4,"v":0.15},{"f":30,"m":8.35,"v":0.15},{"f":30,"m":7.31,"v":0.15},{"f":30,"m":6.27,"v":0.14},{"f":30,"m":5.23,"v":0.12},{"f":30,"m":4.19,"v":0.11},{"f":30,"m":3.15,"v":0.1},{"f":30,"m":2.1,"v":0.11},{"f":30,"m":1.06,"v":0.13},{"f":30,"m":0.02,"v":0.13},
{"f":40,"m":23.98,"v":0.05},{"f":40,"m":22.94,"v":0.04},{"f":40,"m":21.9,"v":0.04},{"f":40,"m":20.85,"v":0.03},{"f":40,"m":19.81,"v":0.04},{"f":40,"m":18.77,"v":0.04},{"f":40,"m":17.73,"v":0.04},{"f":40,"m":16.69,"v":0.04},{"f":40,"m":15.65,"v":0.05},{"f":40,"m":14.6,"v":0.05},{"f":40,"m":13.56,"v":0.05},{"f":40,"m":12.52,"v":0.05},{"f":40,"m":11.48,"v":0.05},{"f":40,"m":10.44,"v":0.05},{"f":40,"m":9.4,"v":0.05},{"f":40,"m":8.35,"v":0.05},{"f":40,"m":7.31,"v":0.05},{"f":40,"m":6.27,"v":0.05},{"f":40,"m":5.23,"v":0.04},{"f":40,"m":4.19,"v":0.04},{"f":40,"m":3.15,"v":0.03},{"f":40,"m":2.1,"v":0.04},{"f":40,"m":1.06,"v":0.05},{"f":40,"m":0.02,"v":0.05},
{"f":50,"m":23.98,"v":0.02},{"f":50,"m":22.94,"v":0.02},{"f":50,"m":21.9,"v":0.02},{"f":50,"m":20.85,"v":0.02},{"f":50,"m":19.81,"v":0.02},{"f":50,"m":18.77,"v":0.02},{"f":50,"m":17.73,"v":0.02},{"f":50,"m":16.69,"v":0.02},{"f":50,"m":15.65,"v":0.02},{"f":50,"m":14.6,"v":0.02},{"f":50,"m":13.56,"v":0.02},{"f":50,"m":12.52,"v":0.02},{"f":50,"m":11.48,"v":0.02},{"f":50,"m":10.44,"v":0.02},{"f":50,"m":9.4,"v":0.02},{"f":50,"m":8.35,"v":0.02},{"f":50,"m":7.31,"v":0.02},{"f":50,"m":6.27,"v":0.02},{"f":50,"m":5.23,"v":0.02},{"f":50,"m":4.19,"v":0.02},{"f":50,"m":3.15,"v":0.02},{"f":50,"m":2.1,"v":0.02},{"f":50,"m":1.06,"v":0.02},{"f":50,"m":0.02,"v":0.02},
{"f":60,"m":23.98,"v":0.01},{"f":60,"m":22.94,"v":0.01},{"f":60,"m":21.9,"v":0.01},{"f":60,"m":20.85,"v":0.01},{"f":60,"m":19.81,"v":0.01},{"f":60,"m":18.77,"v":0.01},{"f":60,"m":17.73,"v":0.01},{"f":60,"m":16.69,"v":0.01},{"f":60,"m":15.65,"v":0.01},{"f":60,"m":14.6,"v":0.01},{"f":60,"m":13.56,"v":0.01},{"f":60,"m":12.52,"v":0.01},{"f":60,"m":11.48,"v":0.01},{"f":60,"m":10.44,"v":0.01},{"f":60,"m":9.4,"v":0.01},{"f":60,"m":8.35,"v":0.01},{"f":60,"m":7.31,"v":0.01},{"f":60,"m":6.27,"v":0.01},{"f":60,"m":5.23,"v":0.01},{"f":60,"m":4.19,"v":0.01},{"f":60,"m":3.15,"v":0.01},{"f":60,"m":2.1,"v":0.01},{"f":60,"m":1.06,"v":0.01},{"f":60,"m":0.02,"v":0.01}],
"g":[{"f":1,"m":23.98,"v":0.99},{"f":1,"m":22.94,"v":0.91},{"f":1,"m":21.9,"v":0.77},{"f":1,"m":20.85,"v":0.74},{"f":1,"m":19.81,"v":0.74},{"f":1,"m":18.77,"v":0.81},{"f":1,"m":17.73,"v":0.91},{"f":1,"m":16.69,"v":0.97},{"f":1,"m":15.65,"v":1.04},{"f":1,"m":14.6,"v":1.02},{"f":1,"m":13.56,"v":1.05},{"f":1,"m":12.52,"v":1.22},{"f":1,"m":11.48,"v":1.16},{"f":1,"m":10.44,"v":1.26},{"f":1,"m":9.4,"v":1.26},{"f":1,"m":8.35,"v":1.18},{"f":1,"m":7.31,"v":1.08},{"f":1,"m":6.27,"v":1.02},{"f":1,"m":5.23,"v":0.86},{"f":1,"m":4.19,"v":0.86},{"f":1,"m":3.15,"v":0.99},{"f":1,"m":2.1,"v":0.98},{"f":1,"m":1.06,"v":0.97},{"f":1,"m":0.02,"v":1.0},
{"f":5,"m":23.98,"v":0.84},{"f":5,"m":22.94,"v":0.78},{"f":5,"m":21.9,"v":0.69},{"f":5,"m":20.85,"v":0.63},{"f":5,"m":19.81,"v":0.63},{"f":5,"m":18.77,"v":0.69},{"f":5,"m":17.73,"v":0.75},{"f":5,"m":16.69,"v":0.82},{"f":5,"m":15.65,"v":0.87},{"f":5,"m":14.6,"v":0.87},{"f":5,"m":13.56,"v":0.88},{"f":5,"m":12.52,"v":0.99},{"f":5,"m":11.48,"v":0.93},{"f":5,"m":10.44,"v":1.03},{"f":5,"m":9.4,"v":1.03},{"f":5,"m":8.35,"v":0.95},{"f":5,"m":7.31,"v":0.9},{"f":5,"m":6.27,"v":0.84},{"f":5,"m":5.23,"v":0.72},{"f":5,"m":4.19,"v":0.73},{"f":5,"m":3.15,"v":0.85},{"f":5,"m":2.1,"v":0.85},{"f":5,"m":1.06,"v":0.83},{"f":5,"m":0.02,"v":0.84},
{"f":10,"m":23.98,"v":0.68},{"f":10,"m":22.94,"v":0.68},{"f":10,"m":21.9,"v":0.55},{"f":10,"m":20.85,"v":0.52},{"f":10,"m":19.81,"v":0.5},{"f":10,"m":18.77,"v":0.58},{"f":10,"m":17.73,"v":0.6},{"f":10,"m":16.69,"v":0.65},{"f":10,"m":15.65,"v":0.68},{"f":10,"m":14.6,"v":0.68},{"f":10,"m":13.56,"v":0.68},{"f":10,"m":12.52,"v":0.78},{"f":10,"m":11.48,"v":0.73},{"f":10,"m":10.44,"v":0.81},{"f":10,"m":9.4,"v":0.87},{"f":10,"m":8.35,"v":0.76},{"f":10,"m":7.31,"v":0.76},{"f":10,"m":6.27,"v":0.69},{"f":10,"m":5.23,"v":0.6},{"f":10,"m":4.19,"v":0.61},{"f":10,"m":3.15,"v":0.73},{"f":10,"m":2.1,"v":0.69},{"f":10,"m":1.06,"v":0.69},{"f":10,"m":0.02,"v":0.69},
{"f":15,"m":23.98,"v":0.44},{"f":15,"m":22.94,"v":0.44},{"f":15,"m":21.9,"v":0.37},{"f":15,"m":20.85,"v":0.33},{"f":15,"m":19.81,"v":0.34},{"f":15,"m":18.77,"v":0.36},{"f":15,"m":17.73,"v":0.36},{"f":15,"m":16.69,"v":0.42},{"f":15,"m":15.65,"v":0.41},{"f":15,"m":14.6,"v":0.41},{"f":15,"m":13.56,"v":0.41},{"f":15,"m":12.52,"v":0.47},{"f":15,"m":11.48,"v":0.44},{"f":15,"m":10.44,"v":0.5},{"f":15,"m":9.4,"v":0.56},{"f":15,"m":8.35,"v":0.52},{"f":15,"m":7.31,"v":0.51},{"f":15,"m":6.27,"v":0.47},{"f":15,"m":5.23,"v":0.42},{"f":15,"m":4.19,"v":0.42},{"f":15,"m":3.15,"v":0.47},{"f":15,"m":2.1,"v":0.44},{"f":15,"m":1.06,"v":0.45},{"f":15,"m":0.02,"v":0.44},
{"f":20,"m":23.98,"v":0.29},{"f":20,"m":22.94,"v":0.29},{"f":20,"m":21.9,"v":0.22},{"f":20,"m":20.85,"v":0.21},{"f":20,"m":19.81,"v":0.22},{"f":20,"m":18.77,"v":0.24},{"f":20,"m":17.73,"v":0.24},{"f":20,"m":16.69,"v":0.26},{"f":20,"m":15.65,"v":0.26},{"f":20,"m":14.6,"v":0.26},{"f":20,"m":13.56,"v":0.26},{"f":20,"m":12.52,"v":0.3},{"f":20,"m":11.48,"v":0.26},{"f":20,"m":10.44,"v":0.31},{"f":20,"m":9.4,"v":0.33},{"f":20,"m":8.35,"v":0.31},{"f":20,"m":7.31,"v":0.29},{"f":20,"m":6.27,"v":0.26},{"f":20,"m":5.23,"v":0.26},{"f":20,"m":4.19,"v":0.27},{"f":20,"m":3.15,"v":0.29},{"f":20,"m":2.1,"v":0.27},{"f":20,"m":1.06,"v":0.29},{"f":20,"m":0.02,"v":0.27},
{"f":30,"m":23.98,"v":0.13},{"f":30,"m":22.94,"v":0.13},{"f":30,"m":21.9,"v":0.11},{"f":30,"m":20.85,"v":0.1},{"f":30,"m":19.81,"v":0.11},{"f":30,"m":18.77,"v":0.11},{"f":30,"m":17.73,"v":0.12},{"f":30,"m":16.69,"v":0.12},{"f":30,"m":15.65,"v":0.13},{"f":30,"m":14.6,"v":0.13},{"f":30,"m":13.56,"v":0.13},{"f":30,"m":12.52,"v":0.14},{"f":30,"m":11.48,"v":0.13},{"f":30,"m":10.44,"v":0.14},{"f":30,"m":9.4,"v":0.15},{"f":30,"m":8.35,"v":0.14},{"f":30,"m":7.31,"v":0.14},{"f":30,"m":6.27,"v":0.13},{"f":30,"m":5.23,"v":0.12},{"f":30,"m":4.19,"v":0.12},{"f":30,"m":3.15,"v":0.13},{"f":30,"m":2.1,"v":0.13},{"f":30,"m":1.06,"v":0.13},{"f":30,"m":0.02,"v":0.13},
{"f":40,"m":23.98,"v":0.05},{"f":40,"m":22.94,"v":0.05},{"f":40,"m":21.9,"v":0.04},{"f":40,"m":20.85,"v":0.04},{"f":40,"m":19.81,"v":0.04},{"f":40,"m":18.77,"v":0.04},{"f":40,"m":17.73,"v":0.04},{"f":40,"m":16.69,"v":0.04},{"f":40,"m":15.65,"v":0.05},{"f":40,"m":14.6,"v":0.05},{"f":40,"m":13.56,"v":0.05},{"f":40,"m":12.52,"v":0.05},{"f":40,"m":11.48,"v":0.05},{"f":40,"m":10.44,"v":0.05},{"f":40,"m":9.4,"v":0.05},{"f":40,"m":8.35,"v":0.05},{"f":40,"m":7.31,"v":0.05},{"f":40,"m":6.27,"v":0.05},{"f":40,"m":5.23,"v":0.04},{"f":40,"m":4.19,"v":0.04},{"f":40,"m":3.15,"v":0.05},{"f":40,"m":2.1,"v":0.05},{"f":40,"m":1.06,"v":0.05},{"f":40,"m":0.02,"v":0.05},
{"f":50,"m":23.98,"v":0.02},{"f":50,"m":22.94,"v":0.02},{"f":50,"m":21.9,"v":0.02},{"f":50,"m":20.85,"v":0.02},{"f":50,"m":19.81,"v":0.02},{"f":50,"m":18.77,"v":0.02},{"f":50,"m":17.73,"v":0.02},{"f":50,"m":16.69,"v":0.02},{"f":50,"m":15.65,"v":0.02},{"f":50,"m":14.6,"v":0.02},{"f":50,"m":13.56,"v":0.02},{"f":50,"m":12.52,"v":0.02},{"f":50,"m":11.48,"v":0.02},{"f":50,"m":10.44,"v":0.02},{"f":50,"m":9.4,"v":0.02},{"f":50,"m":8.35,"v":0.02},{"f":50,"m":7.31,"v":0.02},{"f":50,"m":6.27,"v":0.02},{"f":50,"m":5.23,"v":0.02},{"f":50,"m":4.19,"v":0.02},{"f":50,"m":3.15,"v":0.02},{"f":50,"m":2.1,"v":0.02},{"f":50,"m":1.06,"v":0.02},{"f":50,"m":0.02,"v":0.02},
{"f":60,"m":23.98,"v":0.01},{"f":60,"m":22.94,"v":0.01},{"f":60,"m":21.9,"v":0.01},{"f":60,"m":20.85,"v":0.01},{"f":60,"m":19.81,"v":0.01},{"f":60,"m":18.77,"v":0.01},{"f":60,"m":17.73,"v":0.01},{"f":60,"m":16.69,"v":0.01},{"f":60,"m":15.65,"v":0.01},{"f":60,"m":14.6,"v":0.01},{"f":60,"m":13.56,"v":0.01},{"f":60,"m":12.52,"v":0.01},{"f":60,"m":11.48,"v":0.01},{"f":60,"m":10.44,"v":0.01},{"f":60,"m":9.4,"v":0.01},{"f":60,"m":8.35,"v":0.01},{"f":60,"m":7.31,"v":0.01},{"f":60,"m":6.27,"v":0.01},{"f":60,"m":5.23,"v":0.01},{"f":60,"m":4.19,"v":0.01},{"f":60,"m":3.15,"v":0.01},{"f":60,"m":2.1,"v":0.01},{"f":60,"m":1.06,"v":0.01},{"f":60,"m":0.02,"v":0.01}]
},
"concat":[
{"width":711,"height":521,"title":"GRACE-FO\u00a0\u00a0\u00a0\u00a001/06/2018 - 31/10/2020\u00a0\u00a0\u00a0\u00a0NH\u00a0\u00a0\u00a0\u00a0Dec. S.","resolve":{"axis":{"x":"independent","y":"independent"}},"layer":[
{"data":{"name":"a"},"mark":{"type":"rect","height":22.6,"clip":true},"encoding":{"x":{"field":"f","type":"ordinal","scale":{"type":"band","domain":[1,5,10,15,20,30,40,50,60],"paddingInner":0,"paddingOuter":0},"axis":{"orient":"bottom","title":"Filter length [s]","labelAngle":0,"labelPadding":27,"titlePadding":11}},"y":{"field":"m","type":"quantitative","scale":{"domain":[-0.5,24.5],"nice":false,"zero":false},"axis":{"orient":"left","title":"MLT [h]","values":[0,3,6,9,12,15,18,21,24],"labelPadding":21,"titlePadding":12}},"color":{"field":"v","type":"quantitative","scale":{"domain":[0,0.175,0.525,0.875,1.225,1.4],"range":["#000080","#0000ff","#00ffff","#ffff00","#ff0000","#800000"],"clamp":true,"interpolate":"rgb"},"legend":{"title":"RMS","orient":"none","legendX":728,"legendY":0,"gradientLength":521,"gradientThickness":34,"gradientStrokeColor":"#555555","gradientStrokeWidth":1,"values":[0,0.2,0.4,0.6,0.8,1,1.2,1.4],"format":"~g","labelFontSize":30,"labelOffset":11,"labelColor":"#262626","labelOverlap":false,"titleFontSize":31,"titleColor":"#262626","titleFontWeight":"normal","titleOrient":"right","titlePadding":30,"encoding":{"title":{"angle":{"value":-90},"align":{"value":"center"},"baseline":{"value":"middle"}},"labels":{"baseline":{"value":"middle"}}}}}}},
{"data":{"values":[{"t":"(a)"}]},"mark":{"type":"text","align":"left","baseline":"alphabetic","fontSize":60,"dx":-158,"dy":16,"color":"#000000"},"encoding":{"text":{"field":"t","type":"nominal"},"x":{"datum":1,"type":"ordinal","scale":{"type":"band"},"axis":{"orient":"top","labels":false,"title":null}},"y":{"datum":24,"type":"quantitative","axis":{"orient":"right","labels":false,"title":null,"values":[0,3,6,9,12,15,18,21,24]}}}}]},
{"width":711,"height":521,"title":"GRACE-FO\u00a0\u00a0\u00a0\u00a001/06/2018 - 31/10/2020\u00a0\u00a0\u00a0\u00a0SH\u00a0\u00a0\u00a0\u00a0Dec. S.","resolve":{"axis":{"x":"independent","y":"independent"}},"layer":[
{"data":{"name":"d"},"mark":{"type":"rect","height":22.6,"clip":true},"encoding":{"x":{"field":"f","type":"ordinal","scale":{"type":"band","domain":[1,5,10,15,20,30,40,50,60],"paddingInner":0,"paddingOuter":0},"axis":{"orient":"bottom","title":"Filter length [s]","labelAngle":0,"labelPadding":27,"titlePadding":11}},"y":{"field":"m","type":"quantitative","scale":{"domain":[-0.5,24.5],"nice":false,"zero":false},"axis":{"orient":"left","title":"MLT [h]","values":[0,3,6,9,12,15,18,21,24],"labelPadding":21,"titlePadding":12}},"color":{"field":"v","type":"quantitative","scale":{"domain":[0,0.175,0.525,0.875,1.225,1.4],"range":["#000080","#0000ff","#00ffff","#ffff00","#ff0000","#800000"],"clamp":true,"interpolate":"rgb"},"legend":{"title":"RMS","orient":"none","legendX":728,"legendY":0,"gradientLength":521,"gradientThickness":34,"gradientStrokeColor":"#555555","gradientStrokeWidth":1,"values":[0,0.2,0.4,0.6,0.8,1,1.2,1.4],"format":"~g","labelFontSize":30,"labelOffset":11,"labelColor":"#262626","labelOverlap":false,"titleFontSize":31,"titleColor":"#262626","titleFontWeight":"normal","titleOrient":"right","titlePadding":30,"encoding":{"title":{"angle":{"value":-90},"align":{"value":"center"},"baseline":{"value":"middle"}},"labels":{"baseline":{"value":"middle"}}}}}}},
{"data":{"values":[{"t":"(d)"}]},"mark":{"type":"text","align":"left","baseline":"alphabetic","fontSize":60,"dx":-158,"dy":16,"color":"#000000"},"encoding":{"text":{"field":"t","type":"nominal"},"x":{"datum":1,"type":"ordinal","scale":{"type":"band"},"axis":{"orient":"top","labels":false,"title":null}},"y":{"datum":24,"type":"quantitative","axis":{"orient":"right","labels":false,"title":null,"values":[0,3,6,9,12,15,18,21,24]}}}}]},
{"width":711,"height":521,"title":"GRACE-FO\u00a0\u00a0\u00a0\u00a001/06/2018 - 31/10/2020\u00a0\u00a0\u00a0\u00a0NH\u00a0\u00a0\u00a0\u00a0Equinoxes","resolve":{"axis":{"x":"independent","y":"independent"}},"layer":[
{"data":{"name":"b"},"mark":{"type":"rect","height":22.6,"clip":true},"encoding":{"x":{"field":"f","type":"ordinal","scale":{"type":"band","domain":[1,5,10,15,20,30,40,50,60],"paddingInner":0,"paddingOuter":0},"axis":{"orient":"bottom","title":"Filter length [s]","labelAngle":0,"labelPadding":27,"titlePadding":11}},"y":{"field":"m","type":"quantitative","scale":{"domain":[-0.5,24.5],"nice":false,"zero":false},"axis":{"orient":"left","title":"MLT [h]","values":[0,3,6,9,12,15,18,21,24],"labelPadding":21,"titlePadding":12}},"color":{"field":"v","type":"quantitative","scale":{"domain":[0,0.175,0.525,0.875,1.225,1.4],"range":["#000080","#0000ff","#00ffff","#ffff00","#ff0000","#800000"],"clamp":true,"interpolate":"rgb"},"legend":{"title":"RMS","orient":"none","legendX":728,"legendY":0,"gradientLength":521,"gradientThickness":34,"gradientStrokeColor":"#555555","gradientStrokeWidth":1,"values":[0,0.2,0.4,0.6,0.8,1,1.2,1.4],"format":"~g","labelFontSize":30,"labelOffset":11,"labelColor":"#262626","labelOverlap":false,"titleFontSize":31,"titleColor":"#262626","titleFontWeight":"normal","titleOrient":"right","titlePadding":30,"encoding":{"title":{"angle":{"value":-90},"align":{"value":"center"},"baseline":{"value":"middle"}},"labels":{"baseline":{"value":"middle"}}}}}}},
{"data":{"values":[{"t":"(b)"}]},"mark":{"type":"text","align":"left","baseline":"alphabetic","fontSize":60,"dx":-158,"dy":16,"color":"#000000"},"encoding":{"text":{"field":"t","type":"nominal"},"x":{"datum":1,"type":"ordinal","scale":{"type":"band"},"axis":{"orient":"top","labels":false,"title":null}},"y":{"datum":24,"type":"quantitative","axis":{"orient":"right","labels":false,"title":null,"values":[0,3,6,9,12,15,18,21,24]}}}}]},
{"width":711,"height":521,"title":"GRACE-FO\u00a0\u00a0\u00a0\u00a001/06/2018 - 31/10/2020\u00a0\u00a0\u00a0\u00a0SH\u00a0\u00a0\u00a0\u00a0Equinoxes","resolve":{"axis":{"x":"independent","y":"independent"}},"layer":[
{"data":{"name":"e"},"mark":{"type":"rect","height":22.6,"clip":true},"encoding":{"x":{"field":"f","type":"ordinal","scale":{"type":"band","domain":[1,5,10,15,20,30,40,50,60],"paddingInner":0,"paddingOuter":0},"axis":{"orient":"bottom","title":"Filter length [s]","labelAngle":0,"labelPadding":27,"titlePadding":11}},"y":{"field":"m","type":"quantitative","scale":{"domain":[-0.5,24.5],"nice":false,"zero":false},"axis":{"orient":"left","title":"MLT [h]","values":[0,3,6,9,12,15,18,21,24],"labelPadding":21,"titlePadding":12}},"color":{"field":"v","type":"quantitative","scale":{"domain":[0,0.175,0.525,0.875,1.225,1.4],"range":["#000080","#0000ff","#00ffff","#ffff00","#ff0000","#800000"],"clamp":true,"interpolate":"rgb"},"legend":{"title":"RMS","orient":"none","legendX":728,"legendY":0,"gradientLength":521,"gradientThickness":34,"gradientStrokeColor":"#555555","gradientStrokeWidth":1,"values":[0,0.2,0.4,0.6,0.8,1,1.2,1.4],"format":"~g","labelFontSize":30,"labelOffset":11,"labelColor":"#262626","labelOverlap":false,"titleFontSize":31,"titleColor":"#262626","titleFontWeight":"normal","titleOrient":"right","titlePadding":30,"encoding":{"title":{"angle":{"value":-90},"align":{"value":"center"},"baseline":{"value":"middle"}},"labels":{"baseline":{"value":"middle"}}}}}}},
{"data":{"values":[{"t":"(e)"}]},"mark":{"type":"text","align":"left","baseline":"alphabetic","fontSize":60,"dx":-158,"dy":16,"color":"#000000"},"encoding":{"text":{"field":"t","type":"nominal"},"x":{"datum":1,"type":"ordinal","scale":{"type":"band"},"axis":{"orient":"top","labels":false,"title":null}},"y":{"datum":24,"type":"quantitative","axis":{"orient":"right","labels":false,"title":null,"values":[0,3,6,9,12,15,18,21,24]}}}}]},
{"width":711,"height":521,"title":"GRACE-FO\u00a0\u00a0\u00a0\u00a001/06/2018 - 31/10/2020\u00a0\u00a0\u00a0\u00a0NH\u00a0\u00a0\u00a0\u00a0June S.","resolve":{"axis":{"x":"independent","y":"independent"}},"layer":[
{"data":{"name":"c"},"mark":{"type":"rect","height":22.6,"clip":true},"encoding":{"x":{"field":"f","type":"ordinal","scale":{"type":"band","domain":[1,5,10,15,20,30,40,50,60],"paddingInner":0,"paddingOuter":0},"axis":{"orient":"bottom","title":"Filter length [s]","labelAngle":0,"labelPadding":27,"titlePadding":11}},"y":{"field":"m","type":"quantitative","scale":{"domain":[-0.5,24.5],"nice":false,"zero":false},"axis":{"orient":"left","title":"MLT [h]","values":[0,3,6,9,12,15,18,21,24],"labelPadding":21,"titlePadding":12}},"color":{"field":"v","type":"quantitative","scale":{"domain":[0,0.175,0.525,0.875,1.225,1.4],"range":["#000080","#0000ff","#00ffff","#ffff00","#ff0000","#800000"],"clamp":true,"interpolate":"rgb"},"legend":{"title":"RMS","orient":"none","legendX":728,"legendY":0,"gradientLength":521,"gradientThickness":34,"gradientStrokeColor":"#555555","gradientStrokeWidth":1,"values":[0,0.2,0.4,0.6,0.8,1,1.2,1.4],"format":"~g","labelFontSize":30,"labelOffset":11,"labelColor":"#262626","labelOverlap":false,"titleFontSize":31,"titleColor":"#262626","titleFontWeight":"normal","titleOrient":"right","titlePadding":30,"encoding":{"title":{"angle":{"value":-90},"align":{"value":"center"},"baseline":{"value":"middle"}},"labels":{"baseline":{"value":"middle"}}}}}}},
{"data":{"values":[{"t":"(c)"}]},"mark":{"type":"text","align":"left","baseline":"alphabetic","fontSize":60,"dx":-158,"dy":16,"color":"#000000"},"encoding":{"text":{"field":"t","type":"nominal"},"x":{"datum":1,"type":"ordinal","scale":{"type":"band"},"axis":{"orient":"top","labels":false,"title":null}},"y":{"datum":24,"type":"quantitative","axis":{"orient":"right","labels":false,"title":null,"values":[0,3,6,9,12,15,18,21,24]}}}}]},
{"width":711,"height":521,"title":"GRACE-FO\u00a0\u00a0\u00a0\u00a001/06/2018 - 31/10/2020\u00a0\u00a0\u00a0\u00a0SH\u00a0\u00a0\u00a0\u00a0June S.","resolve":{"axis":{"x":"independent","y":"independent"}},"layer":[
{"data":{"name":"g"},"mark":{"type":"rect","height":22.6,"clip":true},"encoding":{"x":{"field":"f","type":"ordinal","scale":{"type":"band","domain":[1,5,10,15,20,30,40,50,60],"paddingInner":0,"paddingOuter":0},"axis":{"orient":"bottom","title":"Filter length [s]","labelAngle":0,"labelPadding":27,"titlePadding":11}},"y":{"field":"m","type":"quantitative","scale":{"domain":[-0.5,24.5],"nice":false,"zero":false},"axis":{"orient":"left","title":"MLT [h]","values":[0,3,6,9,12,15,18,21,24],"labelPadding":21,"titlePadding":12}},"color":{"field":"v","type":"quantitative","scale":{"domain":[0,0.175,0.525,0.875,1.225,1.4],"range":["#000080","#0000ff","#00ffff","#ffff00","#ff0000","#800000"],"clamp":true,"interpolate":"rgb"},"legend":{"title":"RMS","orient":"none","legendX":728,"legendY":0,"gradientLength":521,"gradientThickness":34,"gradientStrokeColor":"#555555","gradientStrokeWidth":1,"values":[0,0.2,0.4,0.6,0.8,1,1.2,1.4],"format":"~g","labelFontSize":30,"labelOffset":11,"labelColor":"#262626","labelOverlap":false,"titleFontSize":31,"titleColor":"#262626","titleFontWeight":"normal","titleOrient":"right","titlePadding":30,"encoding":{"title":{"angle":{"value":-90},"align":{"value":"center"},"baseline":{"value":"middle"}},"labels":{"baseline":{"value":"middle"}}}}}}},
{"data":{"values":[{"t":"(f)"}]},"mark":{"type":"text","align":"left","baseline":"alphabetic","fontSize":60,"dx":-155,"dy":16,"color":"#000000"},"encoding":{"text":{"field":"t","type":"nominal"},"x":{"datum":1,"type":"ordinal","scale":{"type":"band"},"axis":{"orient":"top","labels":false,"title":null}},"y":{"datum":24,"type":"quantitative","axis":{"orient":"right","labels":false,"title":null,"values":[0,3,6,9,12,15,18,21,24]}}}}]}
]}
